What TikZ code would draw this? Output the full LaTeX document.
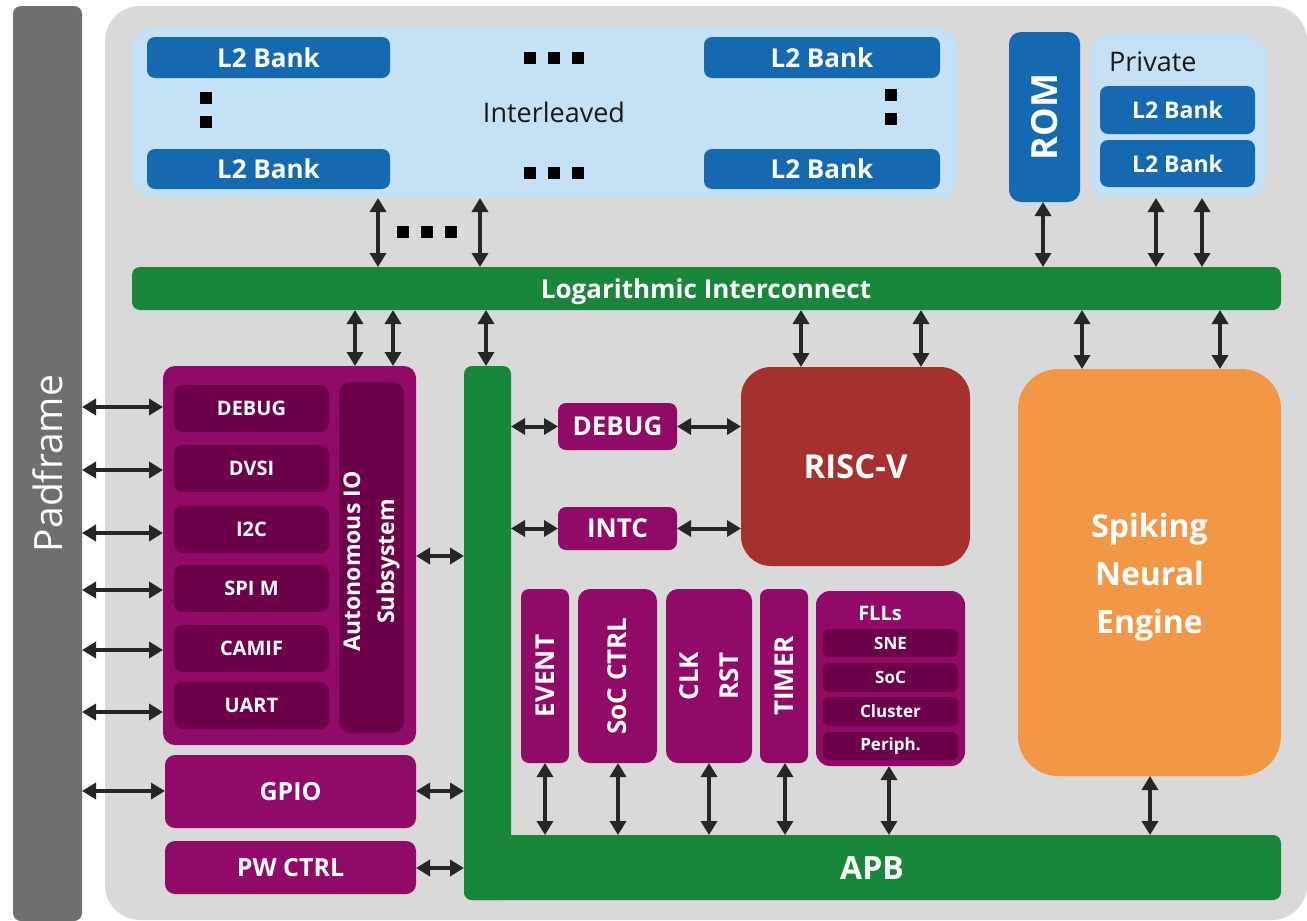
\documentclass[tikz,border=0pt]{standalone}
\usepackage{fontspec}
\setmainfont{Open Sans}
\usetikzlibrary{arrows.meta}

\definecolor{socgrey}{HTML}{D9D9D9}
\definecolor{padgrey}{HTML}{6F6F6F}
\definecolor{memlight}{HTML}{C5E1F5}
\definecolor{membank}{HTML}{1469B0}
\definecolor{busgreen}{HTML}{19873B}
\definecolor{perimag}{HTML}{910A67}
\definecolor{peridark}{HTML}{6C0049}
\definecolor{corered}{HTML}{A6302D}
\definecolor{sneorange}{HTML}{F29745}
\definecolor{arrowink}{HTML}{262626}

\newcommand\fsz[2]{\fontsize{#1}{#2}\selectfont}
% \blk{name}{x1}{y1}{x2}{y2}{style}{text}: a box given by its corners
\newcommand\blk[7]{\node[#6, minimum width={#4-#2}, minimum height={#5-#3}] (#1) at ({(#2+#4)/2},{(#3+#5)/2}) {#7};}

\tikzset{
  box/.style={rectangle, inner sep=0pt, outer sep=0pt, text=white, align=center},
  bankbox/.style={box, fill=membank, rounded corners=8pt, font=\bfseries\fsz{26}{30}},
  smallbank/.style={box, fill=membank, rounded corners=8pt, font=\bfseries\fsz{23}{26}},
  memarea/.style={box, fill=memlight, rounded corners=20pt},
  busbox/.style={box, fill=busgreen, rounded corners=8pt},
  magbox/.style={box, fill=perimag, rounded corners=10pt, font=\bfseries\fsz{26}{30}},
  darkbox/.style={box, fill=peridark, rounded corners=9pt, font=\bfseries\fsz{20}{24}},
  fllbox/.style={box, fill=peridark, rounded corners=6pt, font=\bfseries\fsz{17}{20}},
  vtext/.style={rotate=90, text=white, inner sep=0pt, align=center},
  dotsq/.style={fill=black},
  biarr/.style={draw=arrowink, line width=4pt,
    {Triangle[length=14pt,width=16pt]}-{Triangle[length=14pt,width=16pt]}},
}

\begin{document}
\begin{tikzpicture}[x=1pt, y=-1pt]
\useasboundingbox (0,0) rectangle (1307,921);

% padframe and SoC background
\blk{pad}{13}{6}{82}{921}{box, fill=padgrey, rounded corners=8pt}{}
\node[vtext, font=\fsz{39}{44}] (padT) at (pad.center) {Padframe};
\blk{soc}{105}{6}{1307}{920}{box, fill=socgrey, rounded corners=35pt}{}

% interleaved L2 memory
\blk{ilv}{132}{28}{958}{198}{memarea}{}
\blk{bankA}{147}{37}{390}{78}{bankbox}{L2 Bank}
\blk{bankB}{147}{149}{390}{189}{bankbox}{L2 Bank}
\blk{bankC}{704}{37}{940}{78}{bankbox}{L2 Bank}
\blk{bankD}{704}{149}{940}{189}{bankbox}{L2 Bank}
\node[text=black!90, font=\fsz{27}{30}, inner sep=0pt] (ilvT) at (554,112) {Interleaved};
\foreach \x in {530,554,578} {
  \fill[dotsq] (\x-6,52) rectangle +(12,12);
  \fill[dotsq] (\x-6,167) rectangle +(12,12);
}
\foreach \y in {92,116} {
  \fill[dotsq] (200,\y) rectangle +(12,12);
  \fill[dotsq] (885,\y-3) rectangle +(12,12);
}
\foreach \x in {403,427,451} \fill[dotsq] (\x-6,226) rectangle +(12,12);

% ROM and private L2 memory
\blk{rom}{1009}{32}{1080}{202}{box, fill=membank, rounded corners=12pt}{}
\node[vtext, font=\bfseries\fsz{36}{40}] (romT) at (rom.center) {ROM};
\blk{priv}{1090}{34}{1266}{198}{memarea}{}
\node[anchor=west, text=black!90, font=\fsz{27}{30}, inner sep=0pt] (privT) at (1109,62) {Private};
\blk{pbankA}{1100}{86}{1255}{134}{smallbank}{L2 Bank}
\blk{pbankB}{1100}{140}{1255}{187}{smallbank}{L2 Bank}

% logarithmic interconnect
\blk{ic}{132}{267}{1281}{310}{busbox}{}
\node[text=white, font=\bfseries\fsz{26}{30}, inner sep=0pt, text depth=0pt] (icT) at (706,289) {Logarithmic Interconnect};

% APB bus (vertical and horizontal parts)
\blk{apbv}{464}{366}{511}{900}{busbox}{}
\blk{apb}{464}{835}{1281}{900}{busbox}{}
\node[text=white, font=\bfseries\fsz{32}{36}, inner sep=0pt] (apbT) at (872,868) {APB};

% autonomous IO subsystem
\blk{aio}{163}{366}{416}{745}{magbox, rounded corners=12pt}{}
\blk{udbg}{174}{385}{329}{432}{darkbox}{DEBUG}
\blk{udvsi}{174}{445}{329}{492}{darkbox}{DVSI}
\blk{ui2c}{174}{506}{329}{553}{darkbox}{I2C}
\blk{uspi}{174}{565}{329}{612}{darkbox}{SPI M}
\blk{ucam}{174}{625}{329}{672}{darkbox}{CAMIF}
\blk{uuart}{174}{682}{329}{729}{darkbox}{UART}
\blk{uctl}{339}{382}{404}{733}{darkbox, rounded corners=12pt}{}
\node[vtext, font=\bfseries\fsz{23}{34}] (uctlT) at ([yshift=-4pt]uctl.center) {Autonomous IO\\Subsystem};

\blk{gpio}{165}{755}{416}{828}{magbox, font=\bfseries\fsz{25}{30}}{GPIO}
\blk{pwc}{165}{841}{416}{894}{magbox, font=\bfseries\fsz{25}{30}}{PW CTRL}

% fabric controller
\blk{mdbg}{558}{403}{677}{450}{magbox, rounded corners=8pt}{DEBUG}
\blk{intc}{558}{507}{677}{550}{magbox, rounded corners=8pt}{INTC}
\blk{risc}{741}{367}{970}{566}{box, fill=corered, rounded corners=30pt, font=\bfseries\fsz{33}{38}}{RISC-V}

% APB peripherals
\blk{evt}{521}{589}{569}{763}{magbox, rounded corners=8pt}{}
\node[vtext, font=\bfseries\fsz{26}{30}] (evtT) at (evt.center) {EVENT};
\blk{sctl}{578}{589}{657}{763}{magbox, rounded corners=12pt}{}
\node[vtext, font=\bfseries\fsz{26}{30}] (sctlT) at (sctl.center) {SoC CTRL};
\blk{clk}{666}{589}{752}{763}{magbox, rounded corners=12pt}{}
\node[vtext, font=\bfseries\fsz{26}{40}] (clkT) at (clk.center) {CLK\\RST};
\blk{tmr}{760}{589}{808}{763}{magbox, rounded corners=8pt}{}
\node[vtext, font=\bfseries\fsz{26}{30}] (tmrT) at (tmr.center) {TIMER};
\blk{flls}{816}{591}{965}{766}{magbox, rounded corners=14pt}{}
\node[text=white, font=\bfseries\fsz{20}{24}, inner sep=0pt] (fllsT) at (880,613) {FLLs};
\blk{fsne}{823}{629}{958}{657}{fllbox}{SNE}
\blk{fsoc}{823}{663}{958}{692}{fllbox}{SoC}
\blk{fclu}{823}{697}{958}{726}{fllbox}{Cluster}
\blk{fper}{823}{732}{958}{760}{fllbox}{Periph.}

% spiking neural engine
\blk{sne}{1018}{369}{1281}{776}{box, fill=sneorange, rounded corners=40pt}{}
\node[text=white, align=center, inner sep=0pt, font=\bfseries\fsz{32}{48}] (sneT) at ([yshift=-5pt]sne.center) {Spiking\\Neural\\Engine};

% memory side connections
\draw[biarr] (ilv.south -| 378,0) -- (ic.north -| 378,0);
\draw[biarr] (ilv.south -| 480,0) -- (ic.north -| 480,0);
\draw[biarr] (rom.south -| 1043,0) -- (ic.north -| 1043,0);
\draw[biarr] (priv.south -| 1156,0) -- (ic.north -| 1156,0);
\draw[biarr] (priv.south -| 1202,0) -- (ic.north -| 1202,0);

% interconnect to masters and slaves
\draw[biarr] (ic.south -| 355,0) -- (aio.north -| 355,0);
\draw[biarr] (ic.south -| 393,0) -- (aio.north -| 393,0);
\draw[biarr] (ic.south -| 486,0) -- (apbv.north -| 486,0);
\draw[biarr] (ic.south -| 801,0) -- (risc.north -| 801,0);
\draw[biarr] (ic.south -| 921,0) -- (risc.north -| 921,0);
\draw[biarr] (ic.south -| 1082,0) -- (sne.north -| 1082,0);
\draw[biarr] (ic.south -| 1220,0) -- (sne.north -| 1220,0);

% padframe to IO peripherals
\foreach \n/\y in {udbg/407, udvsi/470, ui2c/533, uspi/590, ucam/650, uuart/712}
  \draw[biarr] (pad.east |- 0,\y) -- (aio.west |- 0,\y);
\draw[biarr] (pad.east |- 0,791) -- (gpio.west |- 0,791);

% IO peripherals to APB
\draw[biarr] (aio.east |- 0,556) -- (apbv.west |- 0,556);
\draw[biarr] (gpio.east |- 0,791) -- (apbv.west |- 0,791);
\draw[biarr] (pwc.east |- 0,868) -- (apbv.west |- 0,868);

% APB to fabric controller blocks
\draw[biarr] (apbv.east |- mdbg.west) -- (mdbg.west);
\draw[biarr] (mdbg.east) -- (risc.west |- mdbg.east);
\draw[biarr] (apbv.east |- intc.west) -- (intc.west);
\draw[biarr] (intc.east) -- (risc.west |- intc.east);

% APB peripherals
\draw[biarr] (evt.south -| 545,0) -- (apb.north -| 545,0);
\draw[biarr] (sctl.south -| 618,0) -- (apb.north -| 618,0);
\draw[biarr] (clk.south -| 709,0) -- (apb.north -| 709,0);
\draw[biarr] (tmr.south -| 785,0) -- (apb.north -| 785,0);
\draw[biarr] (flls.south -| 889,0) -- (apb.north -| 889,0);
\draw[biarr] (sne.south -| 1150,0) -- (apb.north -| 1150,0);
\end{tikzpicture}
\end{document}
